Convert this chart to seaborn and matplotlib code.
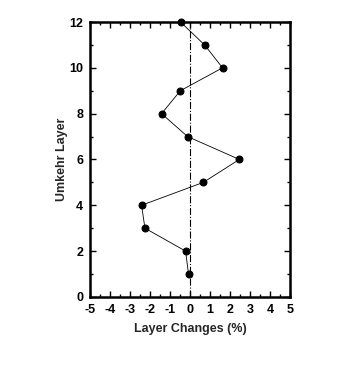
import matplotlib
matplotlib.use("Agg")
import matplotlib.pyplot as plt
import seaborn as sns
import pandas as pd
from matplotlib.ticker import MultipleLocator

layers = [12, 11, 10, 9, 8, 7, 6, 5, 4, 3, 2, 1]
changes = [-0.47, 0.73, 1.63, -0.48, -1.42, -0.12, 2.47, 0.67, -2.42, -2.25, -0.22, -0.07]

df = pd.DataFrame({"change": changes, "layer": layers})

sns.set_style("ticks")
plt.rcParams['font.family'] = ['Liberation Sans Narrow', 'Liberation Sans', 'DejaVu Sans']
plt.rcParams['font.weight'] = 'bold'
plt.rcParams['axes.unicode_minus'] = False

fig = plt.figure(figsize=(3.46, 3.73), dpi=100)
ax = fig.add_axes([0.260, 0.204, 0.578, 0.737])

sns.lineplot(data=df, x="change", y="layer", sort=False, estimator=None,
             color="black", linewidth=0.6, marker="o", markersize=5,
             markeredgecolor="black", markerfacecolor="black", ax=ax, clip_on=False)
ax.axvline(0, color="black", linewidth=0.8, linestyle="-.")

ax.set_xlim(-5, 5)
ax.set_ylim(0, 12)
ax.xaxis.set_major_locator(MultipleLocator(1))
ax.xaxis.set_minor_locator(MultipleLocator(0.5))
ax.yaxis.set_major_locator(MultipleLocator(2))
ax.yaxis.set_minor_locator(MultipleLocator(1))
ax.tick_params(which="both", direction="in", top=True, right=True, width=1, colors="black")
ax.tick_params(which="major", length=4, labelsize=9, pad=5)
ax.tick_params(which="minor", length=2.5)
for lab in ax.get_xticklabels() + ax.get_yticklabels():
    lab.set_fontweight("bold")
for s in ax.spines.values():
    s.set_linewidth(1.8)
    s.set_color("black")

ax.set_xlabel("Layer Changes (%)", fontsize=9, fontweight="bold", labelpad=5)
ax.set_ylabel("Umkehr Layer", fontsize=9, fontweight="bold")
ax.yaxis.set_label_coords(-0.11, 0.5)

fig.savefig("out.png", dpi=100)
